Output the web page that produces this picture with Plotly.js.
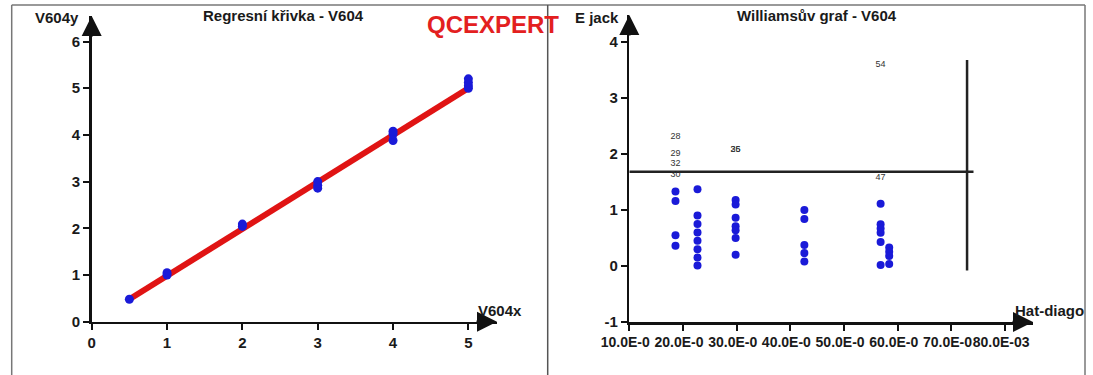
<!DOCTYPE html>
<html>
<head>
<meta charset="utf-8">
<script src="https://cdn.plot.ly/plotly-3.0.1.min.js"></script>
<style>html,body{margin:0;padding:0;background:#fff;}#chart{width:1093px;height:375px;}</style>
</head>
<body>
<div id="chart"></div>
<script>
// ---- Regression curve (left) ----
const regX = [0.5, 1, 1, 2, 2, 3, 3, 3, 4, 4, 4, 5, 5, 5, 5];
const regY = [0.48, 1.0, 1.05, 2.04, 2.09, 2.86, 2.92, 3.0, 3.88, 4.02, 4.08, 5.0, 5.05, 5.12, 5.2];
const fitX = [0.5, 5];
const fitY = [0.48, 5.0];
const regXTicks = [0, 1, 2, 3, 4, 5];
const regXTickText = ['0', '1', '2', '3', '4', '5'];
const regYTicks = [0, 1, 2, 3, 4, 5, 6];
const regYTickText = ['0', '1', '2', '3', '4', '5', '6'];

// ---- Williams graph (right) ----
const hatDiag = [
  0.0186, 0.0186, 0.0186, 0.0186,
  0.0227, 0.0227, 0.0227, 0.0227, 0.0227, 0.0227, 0.0227, 0.0227,
  0.0298, 0.0298, 0.0298, 0.0298, 0.0298, 0.0298, 0.0298,
  0.0426, 0.0426, 0.0426, 0.0426, 0.0426,
  0.0568, 0.0568, 0.0568, 0.0568, 0.0568, 0.0568,
  0.0584, 0.0584, 0.0584, 0.0584
];
const eJack = [
  1.33, 1.16, 0.55, 0.36,
  1.37, 0.90, 0.75, 0.60, 0.45, 0.30, 0.15, 0.01,
  1.18, 1.10, 0.86, 0.71, 0.64, 0.50, 0.20,
  1.00, 0.84, 0.375, 0.23, 0.08,
  1.11, 0.745, 0.67, 0.595, 0.43, 0.02,
  0.33, 0.255, 0.18, 0.035
];
const outlierIds = ['28', '29', '32', '30', '26', '35', '47', '54'];
const outlierHat = [0.0186, 0.0186, 0.0186, 0.0186, 0.0298, 0.0298, 0.0568, 0.0568];
const outlierE = [2.30, 2.00, 1.82, 1.63, 2.07, 2.07, 1.58, 3.59];
const limitHX = [0.010, 0.0741];
const limitHY = [1.684, 1.684];
const limitVX = [0.0729, 0.0729];
const limitVY = [-0.08, 3.68];
const hatTicks = [0.01, 0.02, 0.03, 0.04, 0.05, 0.06, 0.07, 0.08];
const hatTickText = ['10.0E-0', '20.0E-0', '30.0E-0', '40.0E-0', '50.0E-0', '60.0E-0', '70.0E-0', '80.0E-03'];
const eTicks = [-1, 0, 1, 2, 3, 4];
const eTickText = ['-1', '0', '1', '2', '3', '4'];

const W = 1093, H = 375;
const px = v => v / W;
const py = v => 1 - v / H;
const bold = arr => arr.map(s => '<b>' + s + '</b>');

const FONT = 'Liberation Sans, Arial, sans-serif';
const tickFont = {family: FONT, size: 15, color: '#1a1a1a'};

const traces = [
  {x: fitX, y: fitY, xaxis: 'x', yaxis: 'y', mode: 'lines',
   line: {color: '#e01414', width: 6}, hoverinfo: 'skip'},
  {x: regX, y: regY, xaxis: 'x', yaxis: 'y', mode: 'markers',
   marker: {color: '#1a1ad8', size: 9}},
  {x: limitHX, y: limitHY, xaxis: 'x2', yaxis: 'y2', mode: 'lines',
   line: {color: '#222', width: 2.5}},
  {x: limitVX, y: limitVY, xaxis: 'x2', yaxis: 'y2', mode: 'lines',
   line: {color: '#222', width: 2.5}},
  {x: hatDiag, y: eJack, xaxis: 'x2', yaxis: 'y2', mode: 'markers',
   marker: {color: '#1a1ad8', size: 8}},
  {x: outlierHat, y: outlierE, xaxis: 'x2', yaxis: 'y2', mode: 'text',
   text: outlierIds, textposition: 'middle center',
   textfont: {family: FONT, size: 9, color: '#333'}}
];

const axisCommon = {
  showgrid: false, zeroline: false, showline: true, linecolor: '#111', linewidth: 2.5,
  ticks: 'outside', ticklen: 6, tickwidth: 2, tickcolor: '#111',
  tickfont: tickFont, automargin: false, fixedrange: true
};

const arrow = (xref, yref, x, y, ax, ay) => ({
  xref: xref, yref: yref, x: x, y: y, ax: ax, ay: ay, text: '',
  showarrow: true, arrowhead: 2, arrowsize: 1.6, arrowwidth: 2.5, arrowcolor: '#111'
});
const label = (text, x, y, size, opts) => Object.assign({
  xref: 'paper', yref: 'paper', x: px(x), y: py(y), text: '<b>' + text + '</b>', showarrow: false,
  xanchor: 'center', yanchor: 'middle',
  font: {family: FONT, size: size, color: '#1a1a1a'}
}, opts || {});

const layout = {
  width: W, height: H,
  margin: {l: 0, r: 0, t: 0, b: 0},
  paper_bgcolor: '#fff', plot_bgcolor: 'rgba(0,0,0,0)',
  showlegend: false,
  xaxis: Object.assign({}, axisCommon, {domain: [px(91.7), px(497)], range: [0, 5.38],
    tickmode: 'array', tickvals: regXTicks, ticktext: bold(regXTickText), anchor: 'y'}),
  yaxis: Object.assign({}, axisCommon, {domain: [1 - 321.7 / H, 1 - 16 / H], range: [0, 6.546],
    tickmode: 'array', tickvals: regYTicks, ticktext: bold(regYTickText), anchor: 'x'}),
  xaxis2: Object.assign({}, axisCommon, {domain: [px(629.3), px(1033)], range: [0.010, 0.08518],
    tickmode: 'array', tickvals: hatTicks, ticktext: bold(hatTickText), tickangle: 0,
    ticklabelshift: -4, tickfont: {family: FONT, size: 14, color: '#1a1a1a'}, anchor: 'y2'}),
  yaxis2: Object.assign({}, axisCommon, {domain: [1 - 322 / H, 1 - 15 / H], range: [-1, 4.482],
    tickmode: 'array', tickvals: eTicks, ticktext: bold(eTickText), anchor: 'x2'}),
  shapes: [
    {type: 'line', xref: 'paper', yref: 'paper', x0: px(11.7), x1: px(1085), y0: py(5), y1: py(5), line: {color: '#777', width: 1.5}},
    {type: 'line', xref: 'paper', yref: 'paper', x0: px(11.7), x1: px(11.7), y0: 0, y1: py(5), line: {color: '#777', width: 1.5}},
    {type: 'line', xref: 'paper', yref: 'paper', x0: px(547.7), x1: px(547.7), y0: 0, y1: py(5), line: {color: '#555', width: 1.5}},
    {type: 'line', xref: 'paper', yref: 'paper', x0: px(1085), x1: px(1085), y0: 0, y1: py(5), line: {color: '#777', width: 1.5}}
  ],
  annotations: [
    arrow('x domain', 'y domain', 1, 0, -22, 0),
    arrow('x domain', 'y domain', 0, 1, 0, 22),
    arrow('x2 domain', 'y2 domain', 1, 0, -22, 0),
    arrow('x2 domain', 'y2 domain', 0, 1, 0, 22),
    label('Regresní křivka - V604', 283, 15, 15),
    label('Williamsův graf - V604', 817, 16, 15),
    label('QCEXPERT', 493, 24, 24, {font: {family: FONT, size: 24, color: '#e3201f'}}),
    label('V604y', 57, 17, 15),
    label('V604x', 500, 310, 15),
    label('E jack', 597, 17, 15),
    label('Hat-diago', 1013, 310, 15, {xanchor: 'left'})
  ]
};

Plotly.newPlot('chart', traces, layout, {displayModeBar: false, staticPlot: true});
</script>
</body>
</html>
